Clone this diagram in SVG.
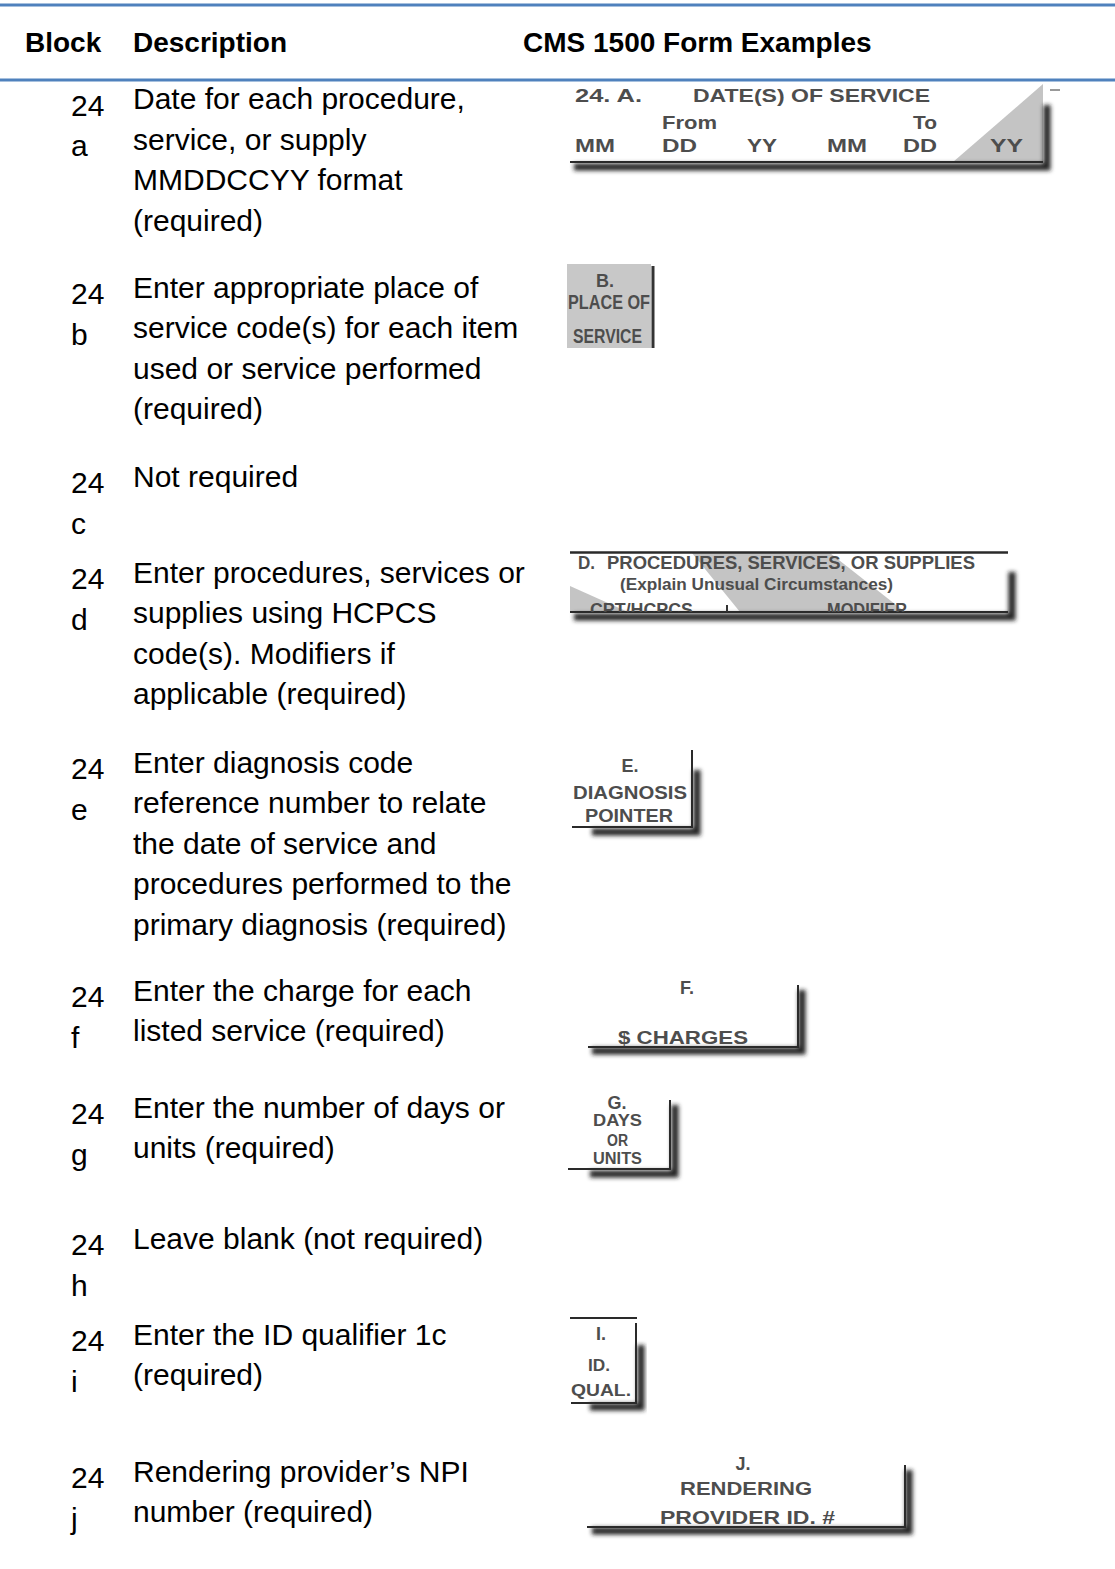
<svg xmlns="http://www.w3.org/2000/svg" width="1115" height="1569" viewBox="0 0 1115 1569">
<style>
.bl{stroke:#4F81BD;stroke-width:3}
.hd{font-family:"Liberation Sans",Arial,sans-serif;font-weight:bold;font-size:28px;fill:#000}
.tx{font-family:"Liberation Sans",Arial,sans-serif;font-size:30px;fill:#000}
.f{font-family:"Liberation Sans",Arial,sans-serif;font-size:18px;font-weight:bold;fill:#4d4d4d}
.s16{font-size:16px}
.s20{font-size:20px}
.m{text-anchor:middle}
.sh{fill:none;stroke:#222;stroke-width:7;filter:url(#bl)}
.ln{fill:none;stroke:#2a2a2a;stroke-width:2}
</style>
<defs>
<filter id="bl" x="-10%" y="-50%" width="120%" height="200%"><feGaussianBlur stdDeviation="2"/></filter>
<clipPath id="cd"><rect x="560" y="540" width="470" height="72"/></clipPath>
</defs>
<rect width="1115" height="1569" fill="#fff"/>
<g id="header">
<line class="bl" x1="0" y1="5" x2="1115" y2="5"/>
<text class="hd" x="25" y="52">Block</text>
<text class="hd" x="133" y="52">Description</text>
<text class="hd" x="523" y="52">CMS 1500 Form Examples</text>
<line class="bl" x1="0" y1="80" x2="1115" y2="80"/>
</g>

<g id="row-24a">
<text class="tx" x="71" y="115.5">24</text><text class="tx" x="71" y="156">a</text>
<text class="tx" x="133" y="109">Date for each procedure,</text>
<text class="tx" x="133" y="149.5">service, or supply</text>
<text class="tx" x="133" y="190">MMDDCCYY format</text>
<text class="tx" x="133" y="230.5">(required)</text>
<g id="form-24a">
<polygon points="1043,84 953,162 1043,162" fill="#c4c4c4"/>
<path class="sh" d="M574 167 H1047 V105"/>
<path class="ln" d="M570 162 H1043"/>
<line x1="1050" y1="90" x2="1060" y2="90" stroke="#777" stroke-width="1.5"/>
<text class="f" x="575" y="101.5" textLength="67" lengthAdjust="spacingAndGlyphs">24. A.</text>
<text class="f" x="693" y="101.5" textLength="237" lengthAdjust="spacingAndGlyphs">DATE(S) OF SERVICE</text>
<text class="f" x="662" y="128.5" textLength="55" lengthAdjust="spacingAndGlyphs">From</text>
<text class="f" x="913" y="128.5" textLength="24" lengthAdjust="spacingAndGlyphs">To</text>
<text class="f" x="575" y="151.5" textLength="40" lengthAdjust="spacingAndGlyphs">MM</text>
<text class="f" x="662" y="151.5" textLength="35" lengthAdjust="spacingAndGlyphs">DD</text>
<text class="f" x="747" y="151.5" textLength="30" lengthAdjust="spacingAndGlyphs">YY</text>
<text class="f" x="827" y="151.5" textLength="40" lengthAdjust="spacingAndGlyphs">MM</text>
<text class="f" x="903" y="151.5" textLength="34" lengthAdjust="spacingAndGlyphs">DD</text>
<text class="f" x="990" y="151.5" textLength="33" lengthAdjust="spacingAndGlyphs">YY</text>
</g>
</g>

<g id="row-24b">
<text class="tx" x="71" y="304">24</text><text class="tx" x="71" y="344.5">b</text>
<text class="tx" x="133" y="297.5">Enter appropriate place of</text>
<text class="tx" x="133" y="338">service code(s) for each item</text>
<text class="tx" x="133" y="378.5">used or service performed</text>
<text class="tx" x="133" y="419">(required)</text>
<g id="form-24b">
<rect x="567" y="264" width="84" height="84" fill="#c8c8c8"/>
<line x1="653" y1="266" x2="653" y2="348" stroke="#333" stroke-width="3"/>
<text class="f m" x="605" y="287">B.</text>
<text class="f s20" x="568" y="309" textLength="82" lengthAdjust="spacingAndGlyphs">PLACE OF</text>
<text class="f s20" x="573" y="343" textLength="69" lengthAdjust="spacingAndGlyphs">SERVICE</text>
</g>
</g>

<g id="row-24c">
<text class="tx" x="71" y="493">24</text><text class="tx" x="71" y="533.5">c</text>
<text class="tx" x="133" y="486.5">Not required</text>
</g>

<g id="row-24d">
<text class="tx" x="71" y="589">24</text><text class="tx" x="71" y="629.5">d</text>
<text class="tx" x="133" y="582.5">Enter procedures, services or</text>
<text class="tx" x="133" y="623">supplies using HCPCS</text>
<text class="tx" x="133" y="663.5">code(s). Modifiers if</text>
<text class="tx" x="133" y="704">applicable (required)</text>
<g id="form-24d">
<polygon points="692,553 830,553 905,612 740,612" fill="#c4c4c4"/>
<polygon points="570,586 570,612 628,612" fill="#c4c4c4"/>
<path class="sh" d="M574 617 H1012 V572"/>
<path class="ln" d="M570 612 H1008"/>
<line x1="570" y1="552.5" x2="1008" y2="552.5" stroke="#2a2a2a" stroke-width="2.5"/>
<text class="f" x="578" y="568.5" textLength="17" lengthAdjust="spacingAndGlyphs">D.</text>
<text class="f" x="607" y="568.5" textLength="368" lengthAdjust="spacingAndGlyphs">PROCEDURES, SERVICES, OR SUPPLIES</text>
<text class="f s16" x="620" y="589.5" textLength="273" lengthAdjust="spacingAndGlyphs">(Explain Unusual Circumstances)</text>
<g clip-path="url(#cd)">
<text class="f" x="590" y="616" textLength="103" lengthAdjust="spacingAndGlyphs">CPT/HCPCS</text>
<text class="f" x="827" y="616" textLength="80" lengthAdjust="spacingAndGlyphs">MODIFIER</text>
</g>
<line x1="727" y1="605" x2="727" y2="612" stroke="#333" stroke-width="2"/>
</g>
</g>

<g id="row-24e">
<text class="tx" x="71" y="779">24</text><text class="tx" x="71" y="819.5">e</text>
<text class="tx" x="133" y="772.5">Enter diagnosis code</text>
<text class="tx" x="133" y="813">reference number to relate</text>
<text class="tx" x="133" y="853.5">the date of service and</text>
<text class="tx" x="133" y="894">procedures performed to the</text>
<text class="tx" x="133" y="934.5">primary diagnosis (required)</text>
<g id="form-24e">
<path class="sh" d="M592 832 H697 V770"/>
<path class="ln" d="M572 827 H692 V750"/>
<text class="f m" x="630" y="771.5">E.</text>
<text class="f" x="573" y="798.5" textLength="114" lengthAdjust="spacingAndGlyphs">DIAGNOSIS</text>
<text class="f" x="585" y="821.5" textLength="88" lengthAdjust="spacingAndGlyphs">POINTER</text>
</g>
</g>

<g id="row-24f">
<text class="tx" x="71" y="1007">24</text><text class="tx" x="71" y="1047.5">f</text>
<text class="tx" x="133" y="1000.5">Enter the charge for each</text>
<text class="tx" x="133" y="1041">listed service (required)</text>
<g id="form-24f">
<path class="sh" d="M592 1051 H802 V990"/>
<path class="ln" d="M588 1047 H798 V985"/>
<text class="f m" x="687" y="993.5">F.</text>
<text class="f" x="618" y="1043.5" textLength="130" lengthAdjust="spacingAndGlyphs">$ CHARGES</text>
</g>
</g>

<g id="row-24g">
<text class="tx" x="71" y="1124">24</text><text class="tx" x="71" y="1164.5">g</text>
<text class="tx" x="133" y="1117.5">Enter the number of days or</text>
<text class="tx" x="133" y="1158">units (required)</text>
<g id="form-24g">
<path class="sh" d="M590 1174 H675 V1105"/>
<path class="ln" d="M568 1169 H670 V1100"/>
<text class="f m" x="617" y="1108.5">G.</text>
<text class="f s16" x="593" y="1126" textLength="49" lengthAdjust="spacingAndGlyphs">DAYS</text>
<text class="f s16" x="607" y="1145.5" textLength="21" lengthAdjust="spacingAndGlyphs">OR</text>
<text class="f s16" x="593" y="1164" textLength="49" lengthAdjust="spacingAndGlyphs">UNITS</text>
</g>
</g>

<g id="row-24h">
<text class="tx" x="71" y="1255">24</text><text class="tx" x="71" y="1295.5">h</text>
<text class="tx" x="133" y="1248.5">Leave blank (not required)</text>
</g>

<g id="row-24i">
<text class="tx" x="71" y="1351">24</text><text class="tx" x="71" y="1391.5">i</text>
<text class="tx" x="133" y="1344.5">Enter the ID qualifier 1c</text>
<text class="tx" x="133" y="1385">(required)</text>
<g id="form-24i">
<path class="sh" d="M590 1407 H641 V1345"/>
<line x1="570" y1="1318" x2="637" y2="1318" stroke="#2a2a2a" stroke-width="2"/>
<path class="ln" d="M571 1403 H636 V1323"/>
<text class="f m" x="601" y="1339.5">I.</text>
<text class="f s16" x="588" y="1371" textLength="22" lengthAdjust="spacingAndGlyphs">ID.</text>
<text class="f s16" x="571" y="1396" textLength="60" lengthAdjust="spacingAndGlyphs">QUAL.</text>
</g>
</g>

<g id="row-24j">
<text class="tx" x="71" y="1488">24</text><text class="tx" x="71" y="1528.5">j</text>
<text class="tx" x="133" y="1481.5">Rendering provider’s NPI</text>
<text class="tx" x="133" y="1522">number (required)</text>
<g id="form-24j">
<path class="sh" d="M592 1531 H909 V1470"/>
<path class="ln" d="M587 1527 H905 V1465"/>
<text class="f m" x="743" y="1469.5">J.</text>
<text class="f" x="680" y="1494.5" textLength="132" lengthAdjust="spacingAndGlyphs">RENDERING</text>
<text class="f" x="660" y="1523.5" textLength="175" lengthAdjust="spacingAndGlyphs">PROVIDER ID. #</text>
</g>
</g>
</svg>
